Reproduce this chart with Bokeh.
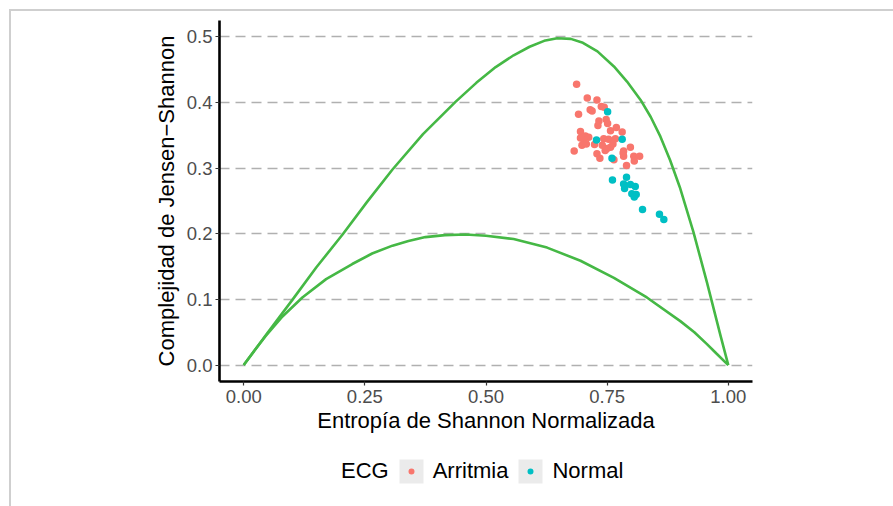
from bokeh.plotting import figure
from bokeh.layouts import column
from bokeh.models import (Range1d, FixedTicker, Legend, LegendItem, ColumnDataSource,
                          NumeralTickFormatter)
from bokeh.embed import file_html
from bokeh.resources import INLINE

# ---------------- data ----------------
x_ticks = [0.0, 0.25, 0.5, 0.75, 1.0]
y_ticks = [0.0, 0.1, 0.2, 0.3, 0.4, 0.5]

# maximum complexity curve
max_H = [0.0, 0.05, 0.10, 0.15, 0.204, 0.255, 0.307, 0.37, 0.437, 0.48, 0.52, 0.557, 0.59,
         0.62, 0.647, 0.675, 0.70, 0.73, 0.764, 0.791, 0.819, 0.84, 0.86, 0.88, 0.90, 0.928,
         0.956, 0.984, 1.0]
max_C = [0.0, 0.050, 0.099, 0.149, 0.199, 0.249, 0.298, 0.352, 0.401, 0.430, 0.454, 0.472,
         0.485, 0.494, 0.498, 0.497, 0.491, 0.478, 0.455, 0.432, 0.404, 0.378, 0.348, 0.312,
         0.271, 0.203, 0.126, 0.045, 0.0]

# minimum complexity curve
min_H = [0.0, 0.02, 0.045, 0.08, 0.121, 0.17, 0.224, 0.265, 0.307, 0.34, 0.375, 0.415, 0.458,
         0.50, 0.557, 0.626, 0.695, 0.764, 0.832, 0.901, 0.93, 0.956, 0.975, 1.0]
min_C = [0.0, 0.020, 0.044, 0.074, 0.103, 0.131, 0.154, 0.170, 0.182, 0.189, 0.195, 0.198,
         0.199, 0.197, 0.192, 0.179, 0.159, 0.133, 0.103, 0.067, 0.050, 0.032, 0.018, 0.0]

# ECG = Arritmia
arr_H = [0.687, 0.709, 0.729, 0.715, 0.719, 0.691, 0.738, 0.744, 0.733, 0.731, 0.748, 0.751,
         0.695, 0.757, 0.769, 0.781, 0.705, 0.712, 0.702, 0.698, 0.707, 0.724, 0.743, 0.753,
         0.767, 0.682, 0.750, 0.757, 0.762, 0.746, 0.784, 0.798, 0.735, 0.764, 0.784, 0.783,
         0.805, 0.817, 0.806, 0.790, 0.729, 0.740, 0.695]
arr_C = [0.428, 0.407, 0.404, 0.389, 0.387, 0.382, 0.394, 0.393, 0.372, 0.365, 0.374, 0.368,
         0.356, 0.357, 0.362, 0.355, 0.349, 0.347, 0.343, 0.335, 0.337, 0.336, 0.345, 0.344,
         0.345, 0.326, 0.330, 0.332, 0.337, 0.327, 0.326, 0.332, 0.315, 0.313, 0.318, 0.323,
         0.318, 0.318, 0.311, 0.304, 0.322, 0.335, 0.346]

# ECG = Normal
nor_H = [0.751, 0.728, 0.781, 0.760, 0.761, 0.790, 0.784, 0.798, 0.808, 0.786, 0.801, 0.810,
         0.806, 0.823, 0.858, 0.867]
nor_C = [0.386, 0.343, 0.344, 0.315, 0.282, 0.286, 0.276, 0.275, 0.272, 0.269, 0.261, 0.260,
         0.256, 0.237, 0.230, 0.222]

legend_title = "ECG"
groups = ["Arritmia", "Normal"]
colors = ["#F8766D", "#00BFC4"]

FONT = "Liberation Sans"
EDGE = 11  # offset taken by the grey page frame (9px margin + 2px line)

p = figure(width=893 - EDGE, height=445 - EDGE, output_backend="svg", toolbar_location=None,
           x_range=Range1d(-0.05, 1.05), y_range=Range1d(-0.025, 0.525),
           min_border_left=219 - EDGE, min_border_right=141,
           min_border_top=20 - EDGE, min_border_bottom=64)
p.outline_line_color = None
p.background_fill_color = "white"
p.border_fill_color = "white"

# grid
p.xgrid.visible = False
p.ygrid.ticker = FixedTicker(ticks=y_ticks)
p.ygrid.grid_line_color = "#b0b0b0"
p.ygrid.grid_line_dash = "10 6"
p.ygrid.grid_line_width = 1.3

# axes
p.xaxis.ticker = FixedTicker(ticks=x_ticks)
p.yaxis.ticker = FixedTicker(ticks=y_ticks)
p.xaxis.formatter = NumeralTickFormatter(format="0.00")
p.yaxis.formatter = NumeralTickFormatter(format="0.0")
for ax in (p.xaxis, p.yaxis):
    ax.axis_line_color = "black"
    ax.axis_line_width = 2.6
    ax.major_tick_line_color = "#333333"
    ax.major_tick_line_width = 1.2
    ax.major_tick_out = 4
    ax.major_tick_in = 0
    ax.minor_tick_line_color = None
    ax.major_label_text_font = FONT
    ax.major_label_text_font_size = "18.5px"
    ax.major_label_text_color = "#4D4D4D"
    ax.axis_label_text_font = FONT
    ax.axis_label_text_font_size = "22px"
    ax.axis_label_text_font_style = "normal"
    ax.axis_label_text_color = "black"
p.xaxis.axis_label = "Entropía de Shannon Normalizada"
p.yaxis.axis_label = "Complejidad de Jensen\u2212Shannon"
p.xaxis.major_label_standoff = 4
p.yaxis.major_label_standoff = 3
p.xaxis.axis_label_standoff = 2
p.yaxis.axis_label_standoff = 5

# curves
green = "#45B845"
p.line(max_H, max_C, line_color=green, line_width=2.6)
p.line(min_H, min_C, line_color=green, line_width=2.6)

# points
src_arr = ColumnDataSource(dict(x=arr_H, y=arr_C))
src_nor = ColumnDataSource(dict(x=nor_H, y=nor_C))
p.scatter("x", "y", source=src_arr, size=7.5, fill_color=colors[0], line_color=None)
p.scatter("x", "y", source=src_nor, size=7.5, fill_color=colors[1], line_color=None)

# ---------------- legend strip below the plot ----------------
# (its frame is aligned with the main plot's frame by the column layout)
leg = figure(width=893 - EDGE, height=61, output_backend="svg", toolbar_location=None,
             x_axis_location=None, y_axis_location=None, min_border=0,
             x_range=p.x_range, y_range=p.y_range)
leg.outline_line_color = None
leg.grid.visible = False
leg.background_fill_color = "white"
leg.border_fill_color = "white"

key_bg = "#EBEBEB"
bg = leg.quad(left="x", right="x", top="y", bottom="y", source=src_arr,
              fill_color=key_bg, line_color=None, visible=False)
ghost = leg.scatter("x", "y", source=src_arr, fill_alpha=0, line_alpha=0, visible=False)
dots = [leg.scatter("x", "y", source=s, fill_color=c, line_color=key_bg, line_width=6,
                    visible=False)
        for s, c in zip([src_arr, src_nor], colors)]

items = [LegendItem(label=legend_title, renderers=[ghost])]
items += [LegendItem(label=g, renderers=[bg, d]) for g, d in zip(groups, dots)]
legend = Legend(items=items, orientation="horizontal", location=(85, 20))
legend.label_text_font = FONT
legend.label_text_font_size = "22px"
legend.label_text_color = "black"
legend.label_standoff = 7
legend.glyph_width = 30
legend.glyph_height = 30
legend.spacing = 7
legend.padding = 3
legend.margin = 0
legend.inactive_fill_alpha = 0
legend.border_line_color = None
legend.background_fill_alpha = 0
leg.add_layout(legend)

layout = column(p, leg, spacing=0, margin=(9, 0, 0, 9),
                styles={"border-top": "2px solid #cfcfcf", "border-left": "2px solid #cfcfcf"})

open("out.html", "w").write(file_html(layout, INLINE))
